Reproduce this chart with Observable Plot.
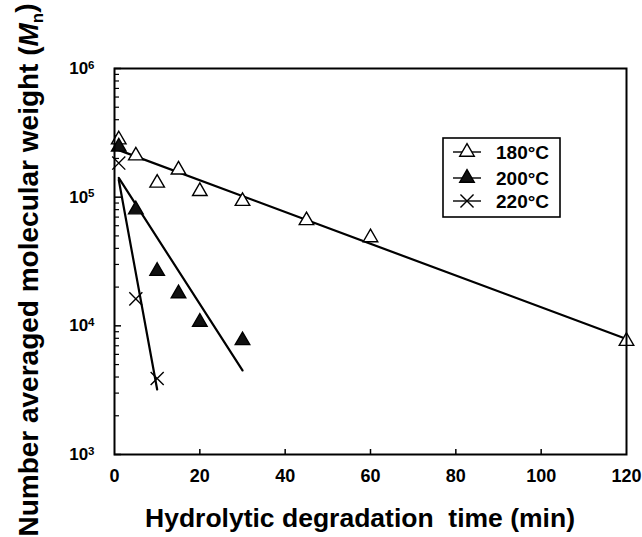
<!DOCTYPE html>
<html><head><meta charset="utf-8">
<script src="https://cdn.jsdelivr.net/npm/d3@7"></script>
<script src="https://cdn.jsdelivr.net/npm/@observablehq/plot@0.6"></script>
<style>
body{margin:0;background:#fff;}
svg{font-family:"Liberation Sans",Arial,sans-serif;}
</style>
</head><body>
<div id="chart"></div>
<script>
// ---- data ----
const series = ["180°C", "200°C", "220°C"];
const t180 = [1, 5, 10, 15, 20, 30, 45, 60, 120];
const mn180 = [280000, 210000, 129000, 163000, 111000, 93000, 65900, 48600, 7600];
const t200 = [1, 5, 10, 15, 20, 30];
const mn200 = [246000, 80000, 26600, 17800, 10700, 7700];
const t220 = [1, 5, 10];
const mn220 = [184000, 16200, 3900];
// fitted lines (end points)
const fitT180 = [1, 120], fitMn180 = [232000, 7900];
const fitT200 = [1, 30], fitMn200 = [141000, 4500];
const fitT220 = [1, 10], fitMn220 = [136000, 3200];
const xTicks = [0, 20, 40, 60, 80, 100, 120];
const yMajor = [1e3, 1e4, 1e5, 1e6];
const yMinor = [];
for (const d of [1e3, 1e4, 1e5]) for (let k = 2; k <= 9; k++) yMinor.push(d * k);

const pts = (ts, ms, s) => ts.map((t, i) => ({t, mn: ms[i], s}));
const p180 = pts(t180, mn180, series[0]);
const p200 = pts(t200, mn200, series[1]);
const p220 = pts(t220, mn220, series[2]);
const f180 = pts(fitT180, fitMn180, series[0]);
const f200 = pts(fitT200, fitMn200, series[1]);
const f220 = pts(fitT220, fitMn220, series[2]);

const plot = Plot.plot({
  width: 642, height: 537,
  marginLeft: 114, marginRight: 16, marginTop: 68, marginBottom: 83,
  style: {fontFamily: "Liberation Sans, Arial, sans-serif", background: "#fff", color: "#000"},
  x: {domain: [0, 120]},
  y: {type: "log", domain: [1e3, 1e6]},
  marks: [
    Plot.axisX({ticks: xTicks, tickSize: 0, tickPadding: 15, label: null}),
    Plot.axisX({ticks: xTicks.slice(1, -1), tickSize: 5, dy: -5, text: null, strokeWidth: 1.5, label: null}),
    Plot.axisY({ticks: yMajor, tickSize: 0, tickPadding: 20, label: null, tickFormat: d => "10|" + Math.round(Math.log10(d))}),
    Plot.axisY({ticks: yMajor, tickSize: 7, dx: 7, text: null, strokeWidth: 1.5, label: null}),
    Plot.axisY({ticks: yMinor, tickSize: 5, dx: 5, text: null, strokeWidth: 1.2, label: null}),
    Plot.line(f180, {x: "t", y: "mn", stroke: "#000", strokeWidth: 2.2}),
    Plot.line(f200, {x: "t", y: "mn", stroke: "#000", strokeWidth: 2.2}),
    Plot.line(f220, {x: "t", y: "mn", stroke: "#000", strokeWidth: 2.2}),
    Plot.dot(p180, {x: "t", y: "mn", symbol: "triangle", r: 5.4, fill: "#fff", stroke: "#000", strokeWidth: 1.4}),
    Plot.dot(p200, {x: "t", y: "mn", symbol: "triangle", r: 5.4, fill: "#111", stroke: "#000", strokeWidth: 1.4}),
    Plot.dot(p220, {x: "t", y: "mn", symbol: "times", r: 6, stroke: "#000", strokeWidth: 1.4}),
    Plot.frame({stroke: "#000", strokeWidth: 2})
  ]
});

const svg = d3.select(plot);
svg.selectAll("g[aria-label='x-axis tick label'] text")
  .style("font-size", "18px").style("font-weight", "bold");
svg.selectAll("g[aria-label='y-axis tick label'] text")
  .style("font-size", "17px").style("font-weight", "bold");
// superscript tick labels
svg.selectAll("g[aria-label='y-axis tick label'] text").each(function() {
  const el = d3.select(this);
  const txt = el.text();
  if (!txt.includes("|")) return;
  const [base, exp] = txt.split("|");
  el.text(null);
  el.append("tspan").text(base);
  el.append("tspan").attr("dy", "-0.45em").style("font-size", "11.5px").text(exp);
});

// axis titles
svg.append("text")
  .attr("transform", "translate(38,270) rotate(-90)")
  .attr("text-anchor", "middle")
  .style("font-size", "28px").style("font-weight", "bold")
  .call(t => {
    t.append("tspan").text("Number averaged molecular weight (");
    t.append("tspan").style("font-style", "italic").text("M");
    t.append("tspan").style("font-size", "17px").attr("dy", "0.3em").text("n");
    t.append("tspan").attr("dy", "-0.3em").text(")");
  });
svg.append("text")
  .attr("x", 360).attr("y", 527)
  .attr("text-anchor", "middle")
  .style("font-size", "26.5px").style("font-weight", "bold")
  .text("Hydrolytic degradation\u00a0 time (min)");

// legend
const lg = svg.append("g").attr("text-anchor", "start");
lg.append("rect").attr("x", 443).attr("y", 138).attr("width", 117).attr("height", 79)
  .attr("fill", "#fff").attr("stroke", "#000").attr("stroke-width", 1.6);
const rowsY = [152, 178, 201];
const sym = [
  {type: d3.symbolTriangle, fill: "#fff"},
  {type: d3.symbolTriangle, fill: "#111"},
  {type: d3.symbolTimes, fill: "none"}
];
series.forEach((s, i) => {
  const y = rowsY[i];
  lg.append("line").attr("x1", 453).attr("x2", 481).attr("y1", y).attr("y2", y)
    .attr("stroke", "#000").attr("stroke-width", 1.4);
  lg.append("path").attr("transform", `translate(467,${y})`)
    .attr("d", d3.symbol(sym[i].type, i === 2 ? Math.PI * 36 : Math.PI * 5.4 * 5.4)())
    .attr("fill", sym[i].fill).attr("stroke", "#000").attr("stroke-width", 1.4);
  lg.append("text").attr("x", 496).attr("y", y).attr("dy", "0.35em")
    .attr("text-anchor", "start")
    .style("font-size", "19px").style("font-weight", "bold").text(s);
});

document.getElementById("chart").append(plot);
</script>
</body></html>
